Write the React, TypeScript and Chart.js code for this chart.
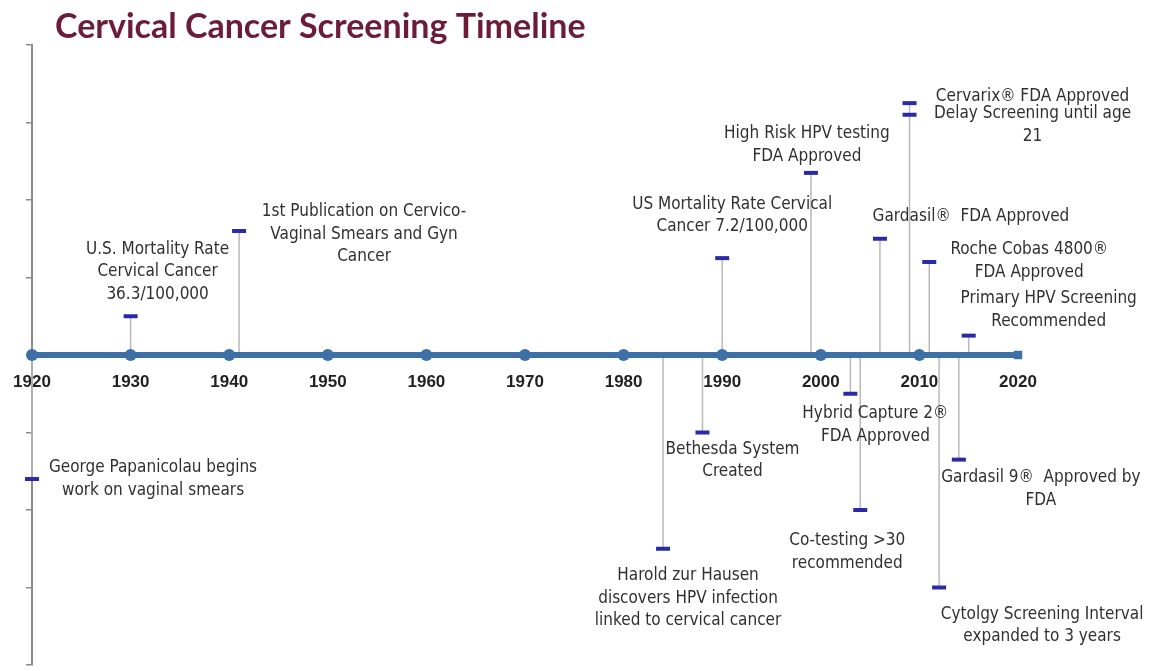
import React, { useEffect, useRef } from 'react';
import { Chart, registerables } from 'chart.js';

Chart.register(...registerables);

const chartTitle = 'Cervical Cancer Screening Timeline';

const decadeYears = [1920, 1930, 1940, 1950, 1960, 1970, 1980, 1990, 2000, 2010, 2020];
const decadeLabels = ['1920', '1930', '1940', '1950', '1960', '1970', '1980', '1990', '2000', '2010', '2020'];

const eventYears = [1920, 1930, 1941, 1984, 1988, 1990, 1999, 2003, 2004, 2006, 2009, 2009, 2011, 2012, 2014, 2015];
const eventValues = [-1.6, 0.5, 1.6, -2.5, -1, 1.25, 2.35, -0.5, -2, 1.5, 3.25, 3.1, 1.2, -3, -1.35, 0.25];
const eventLabels: string[][] = [
  ['George Papanicolau begins', 'work on vaginal smears'],
  ['U.S. Mortality Rate', 'Cervical Cancer', '36.3/100,000'],
  ['1st Publication on Cervico-', 'Vaginal Smears and Gyn', 'Cancer'],
  ['Harold zur Hausen', 'discovers HPV infection', 'linked to cervical cancer'],
  ['Bethesda System', 'Created'],
  ['US Mortality Rate Cervical', 'Cancer 7.2/100,000'],
  ['High Risk HPV testing', 'FDA Approved'],
  ['Hybrid Capture 2®', 'FDA Approved'],
  ['Co-testing >30', 'recommended'],
  ['Gardasil®  FDA Approved'],
  ['Cervarix® FDA Approved'],
  ['Delay Screening until age', '21'],
  ['Roche Cobas 4800®', 'FDA Approved'],
  ['Cytolgy Screening Interval', 'expanded to 3 years'],
  ['Gardasil 9®  Approved by', 'FDA'],
  ['Primary HPV Screening', 'Recommended'],
];
// label placement relative to each marker (pixels): [dx of text centre, dy of first line centre]
const labelOffsets: number[][] = [
  [121, -11], [27, -67], [125, -19], [25, 27], [30, 17], [10, -54], [-4, -39], [25, 20],
  [-13, 31], [91, -22], [123, -7], [123, -1], [100, -12], [103, 27], [82, 18], [80, -37],
];

const yMin = -4;
const yMax = 4;

export default function App() {
  const canvasRef = useRef<HTMLCanvasElement | null>(null);

  useEffect(() => {
    document.body.style.margin = '0';
    const canvas = canvasRef.current;
    if (!canvas) return;

    const axisData = decadeYears.map((yr) => ({ x: yr, y: 0 }));
    const stemData: any[] = [];
    eventYears.forEach((yr, i) => {
      stemData.push({ x: yr, y: 0 });
      stemData.push({ x: yr, y: eventValues[i] });
      stemData.push({ x: yr, y: null });
    });
    const markerData = eventYears.map((yr, i) => ({ x: yr, y: eventValues[i] }));

    const labelPlugin = {
      id: 'eventLabels',
      afterDatasetsDraw(chart: any) {
        const ctx = chart.ctx as CanvasRenderingContext2D;
        const xs = chart.scales.x;
        const ys = chart.scales.y;
        ctx.save();
        ctx.font = '17px "DejaVu Sans Condensed", "DejaVu Sans", sans-serif';
        ctx.fillStyle = '#303030';
        ctx.textAlign = 'center';
        ctx.textBaseline = 'middle';
        eventYears.forEach((yr, i) => {
          const px = xs.getPixelForValue(yr);
          const py = ys.getPixelForValue(eventValues[i]);
          const [dx, dy] = labelOffsets[i];
          eventLabels[i].forEach((line, j) => {
            ctx.fillText(line, px + dx, py + dy + j * 22.5);
          });
        });
        ctx.restore();
      },
      afterDraw(chart: any) {
        const ctx = chart.ctx as CanvasRenderingContext2D;
        ctx.save();
        ctx.font = 'bold 34px Lato, "Open Sans", sans-serif';
        ctx.fillStyle = '#6b1d38';
        ctx.textAlign = 'left';
        ctx.textBaseline = 'middle';
        ctx.fillText(chartTitle, 55, 27);
        ctx.restore();
      },
    };

    const chart = new Chart(canvas, {
      type: 'line',
      data: {
        datasets: [
          {
            label: 'markers',
            data: markerData,
            showLine: false,
            pointStyle: 'line',
            pointRadius: 7,
            pointBorderWidth: 4,
            borderColor: '#2a2aa8',
            backgroundColor: '#2a2aa8',
            clip: false,
            order: 0,
          },
          {
            label: 'axis',
            data: axisData,
            borderColor: '#3e70a8',
            backgroundColor: '#3e70a8',
            borderWidth: 6,
            pointRadius: 6,
            pointStyle: decadeYears.map((_, i) => (i === decadeYears.length - 1 ? 'rect' : 'circle')) as any,
            pointBorderWidth: 0,
            clip: false,
            order: 1,
          },
          {
            label: 'stems',
            data: stemData,
            borderColor: '#b9b9b9',
            borderWidth: 1.5,
            pointRadius: 0,
            spanGaps: false,
            clip: false,
            order: 2,
          },
        ],
      },
      options: {
        animation: false,
        responsive: false,
        maintainAspectRatio: false,
        layout: { autoPadding: false, padding: { top: 45, right: 134, bottom: 6, left: 0 } },
        plugins: {
          legend: { display: false },
          tooltip: { enabled: false },
          title: { display: false },
        },
        scales: {
          x: {
            type: 'linear',
            min: 1920,
            max: 2020,
            position: { y: 0 } as any,
            grid: { display: false, drawTicks: true, tickLength: 17 },
            border: { display: false },
            ticks: {
              stepSize: 10,
              padding: 0,
              color: '#222222',
              font: { family: '"Liberation Sans", Arial, sans-serif', size: 17, weight: 'bold' },
              callback: (v: any) => {
                const idx = decadeYears.indexOf(Number(v));
                return idx >= 0 ? decadeLabels[idx] : '';
              },
              maxRotation: 0,
              autoSkip: false,
            },
          },
          y: {
            type: 'linear',
            min: yMin,
            max: yMax,
            grid: { drawOnChartArea: false, drawTicks: true, tickLength: 6, color: '#8c8c8c', lineWidth: 1.5 },
            border: { display: true, color: '#8c8c8c', width: 2 },
            ticks: { stepSize: 1, display: false },
            afterFit: (scale: any) => {
              scale.width = 32;
            },
          } as any,
        },
      },
      plugins: [labelPlugin],
    });

    return () => chart.destroy();
  }, []);

  return (
    <div style={{ width: 1152, height: 671, background: '#ffffff' }}>
      <canvas ref={canvasRef} width={1152} height={671} style={{ display: 'block' }} />
    </div>
  );
}
